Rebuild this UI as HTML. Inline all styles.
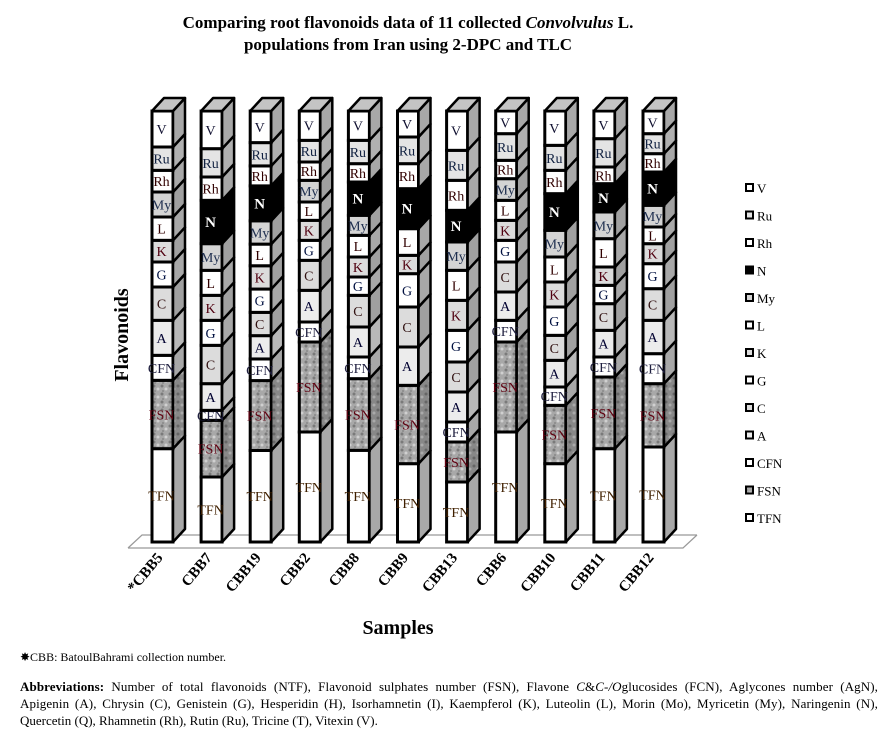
<!DOCTYPE html>
<html><head><meta charset="utf-8">
<style>
body{margin:0;background:#fff;width:888px;height:736px;overflow:hidden;font-family:"Liberation Serif",serif;}
svg{position:absolute;left:0;top:0}
.note{position:absolute;font-size:12px;color:#000;font-family:"Liberation Serif",serif;}
.jl{display:block;white-space:nowrap;text-align:justify;text-align-last:justify;height:17px;font-size:13px;letter-spacing:0.1px}
.ll{display:block;white-space:nowrap;height:17px;font-size:13px}
</style></head>
<body>
<svg id="chart" width="888" height="640">
<defs>
<pattern id="speck" width="8" height="8" patternUnits="userSpaceOnUse">
<rect width="8" height="8" fill="#a8a8a8"/>
<circle cx="2" cy="2" r="1.5" fill="#7a7a7a"/><circle cx="6" cy="5" r="1.5" fill="#d0d0d0"/><circle cx="3" cy="7" r="1" fill="#888"/>
</pattern>
<pattern id="speckd" width="8" height="8" patternUnits="userSpaceOnUse">
<rect width="8" height="8" fill="#888"/>
<circle cx="2" cy="2" r="1.5" fill="#666"/><circle cx="6" cy="5" r="1.5" fill="#aaa"/>
</pattern>
</defs>
<text x="408" y="28" text-anchor="middle" font-size="17" font-weight="bold">Comparing root flavonoids data of 11 collected <tspan font-style="italic">Convolvulus</tspan> L.</text>
<text x="408" y="50" text-anchor="middle" font-size="17" font-weight="bold">populations from Iran using 2-DPC and TLC</text>
<text transform="translate(128,335) rotate(-90)" text-anchor="middle" font-size="20" font-weight="bold">Flavonoids</text>
<text x="398" y="634" text-anchor="middle" font-size="20" font-weight="bold">Samples</text>
<path d="M128,548 L142,535 L697,535 M128,548 L683,548 L697,535" fill="none" stroke="#999" stroke-width="1.2"/>
<g id="bars"></g>
<g id="legend"></g>
<g id="xlabels"></g>
</svg>
<div class="note" style="left:20px;top:650px">✸CBB: BatoulBahrami collection number.</div>
<div class="note" style="left:20px;top:679px;width:858px;">
<span class="jl"><b>Abbreviations:</b> Number of total flavonoids (NTF), Flavonoid sulphates number (FSN), Flavone <i>C</i>&amp;<i>C-/O</i>glucosides (FCN), Aglycones number (AgN),</span>
<span class="jl">Apigenin (A), Chrysin (C), Genistein (G), Hesperidin (H), Isorhamnetin (I), Kaempferol (K), Luteolin (L), Morin (Mo), Myricetin (My), Naringenin (N),</span>
<span class="ll">Quercetin (Q), Rhamnetin (Rh), Rutin (Ru), Tricine (T), Vitexin (V).</span>
</div>
<script>
const samples = ["*CBB5","CBB7","CBB19","CBB2","CBB8","CBB9","CBB13","CBB6","CBB10","CBB11","CBB12"];
const seriesNames = ["TFN","FSN","CFN","A","C","G","K","L","My","N","Rh","Ru","V"];
const TFN = [280,195,275,330,275,235,180,330,235,280,285];
const FSN = [205,170,210,270,215,235,120,270,175,215,190];
const CFN = [75,30,65,60,65,0,60,65,55,60,90];
const A   = [105,80,70,95,90,115,90,85,80,80,100];
const C   = [100,115,70,90,95,120,90,90,75,80,95];
const G   = [75,75,70,60,55,100,95,65,85,55,75];
const K   = [65,75,70,60,60,55,90,60,75,55,60];
const L   = [70,75,65,55,65,80,90,60,75,85,50];
const My  = [75,80,70,65,60,0,85,65,80,80,65];
const N   = [0,130,105,0,100,120,95,0,110,85,100];
const Rh  = [65,70,60,55,55,75,90,55,70,50,55];
const Ru  = [70,85,70,65,70,80,90,80,75,85,60];
const V   = [108,113,95,88,88,78,118,68,103,83,68];
const series = [TFN,FSN,CFN,A,C,G,K,L,My,N,Rh,Ru,V];

const fills = {TFN:"#fff",FSN:"url(#speck)",CFN:"#fff",A:"#ececec",C:"#dcdcdc",G:"#fff",K:"#dcdcdc",L:"#fff",My:"#d4d4d4",N:"#000",Rh:"#fff",Ru:"#e4e4e4",V:"#fff"};
const sides = {TFN:"#a8a8a8",FSN:"url(#speckd)",CFN:"#a8a8a8",A:"#b8b8b8",C:"#a0a0a0",G:"#a8a8a8",K:"#a0a0a0",L:"#a8a8a8",My:"#a0a0a0",N:"#000",Rh:"#a8a8a8",Ru:"#b0b0b0",V:"#a8a8a8"};
const tcol = {TFN:"#402000",FSN:"#600010",CFN:"#202040",A:"#000030",C:"#301010",G:"#001040",K:"#500010",L:"#300000",My:"#203050",N:"#fff",Rh:"#300000",Ru:"#102040",V:"#101030"};

const NS="http://www.w3.org/2000/svg";
const x0=152, step=49.1, bw=21, dx=12, dy=13, yTop=111, yBot=542;
function xPos(i){return x0+i*step;}
function yScale(frac){return yBot-frac*(yBot-yTop);}
const bars=document.getElementById('bars');
function mk(tag,attrs,parent){const e=document.createElementNS(NS,tag);for(const k in attrs)e.setAttribute(k,attrs[k]);parent.appendChild(e);return e;}

for(let i=samples.length-1;i>=0;i--){
  const g=mk('g',{},bars);
  
  
  const x=xPos(i);
  let total=0; for(const s of series) total+=s[i];
  let cum=0;
  for(let k=0;k<series.length;k++){
    const v=series[k][i]; if(v<=0) continue;
    const nm=seriesNames[k];
    const y1=yScale(cum/total), y2=yScale((cum+v)/total);
    cum+=v;
    const f=mk('rect',{x:x,y:y2,width:bw,height:y1-y2,fill:fills[nm],stroke:'#000','stroke-width':3},g);
    
    
    const s=mk('polygon',{points:`${x+bw},${y1} ${x+bw+dx},${y1-dy} ${x+bw+dx},${y2-dy} ${x+bw},${y2}`,fill:sides[nm],stroke:'#000','stroke-width':2.5,'stroke-linejoin':'round'},g);
    
    
    const t=mk('text',{x:x+bw/2-1,y:(y1+y2)/2+5,'text-anchor':'middle','font-size':nm==='N'?15:14,'font-weight':nm==='N'?'bold':'normal',fill:tcol[nm]},g);
    t.textContent=nm;
    
    
  }
  const top=mk('polygon',{points:`${x},${yTop} ${x+dx},${yTop-dy} ${x+bw+dx},${yTop-dy} ${x+bw},${yTop}`,fill:'#c4c4c4',stroke:'#000','stroke-width':2.5,'stroke-linejoin':'round'},g);
  
  
}

const xl=document.getElementById('xlabels');
samples.forEach((s,i)=>{
  const cx=xPos(i)+bw/2+1;
  const t=mk('text',{transform:`translate(${cx},558) rotate(-50)`,'text-anchor':'end','font-size':15,'font-weight':'bold'},xl);
  t.textContent=s;
  
  
});

const lg=document.getElementById('legend');
const legendOrder=seriesNames.slice().reverse();
legendOrder.forEach((nm,j)=>{
  const y=188+j*27.5;
  const g=mk('g',{},lg);
  
  
  mk('rect',{x:746,y:y-4,width:7,height:7,fill:fills[nm],stroke:'#000','stroke-width':2},g);
  const t=mk('text',{x:757,y:y+5,'font-size':13},g);
  t.textContent=nm;
});
</script>
</body></html>
